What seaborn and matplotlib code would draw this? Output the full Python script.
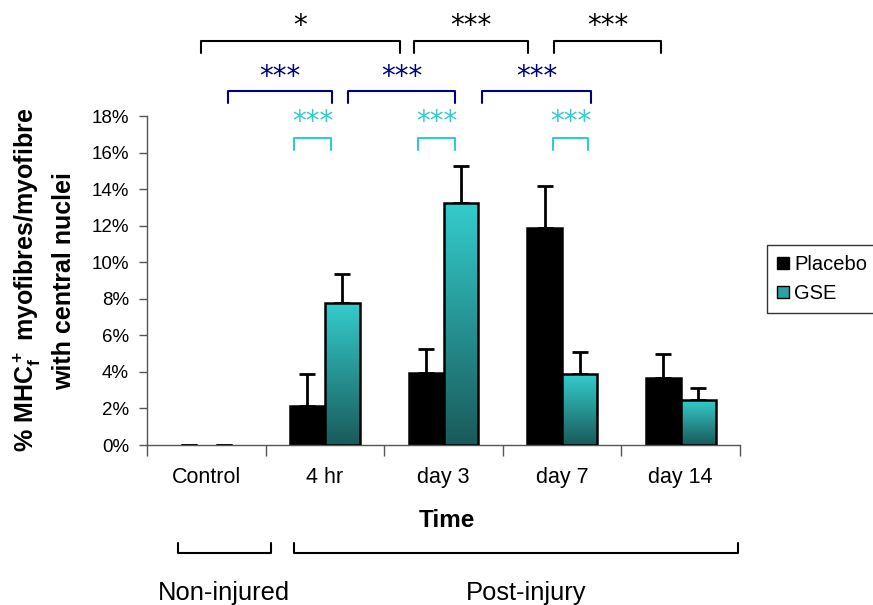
import numpy as np
import pandas as pd
import matplotlib
matplotlib.use("Agg")
import matplotlib.pyplot as plt
import seaborn as sns
from matplotlib.lines import Line2D
from matplotlib.patches import Patch
from matplotlib.colors import LinearSegmentedColormap

# ---------------- data ----------------
categories = ["Control", "4 hr", "day 3", "day 7", "day 14"]
groups = ["Placebo", "GSE"]
placebo = [0.0, 2.15, 3.96, 11.87, 3.67]
placebo_err = [0.0, 1.73, 1.31, 2.30, 1.31]
gse = [0.0, 7.75, 13.24, 3.88, 2.46]
gse_err = [0.0, 1.59, 2.02, 1.21, 0.66]
yticks = [0, 2, 4, 6, 8, 10, 12, 14, 16, 18]
ytick_labels = [f"{t}%" for t in yticks]

sig_black = ["*", "***", "***"]
sig_navy = ["***", "***", "***"]
sig_cyan = ["***", "***", "***"]

# ---------------- style ----------------
sns.set_theme(style="white")
plt.rcParams['font.family'] = ['Liberation Sans', 'DejaVu Sans']
plt.rcParams['mathtext.default'] = 'regular'
plt.rcParams['text.color'] = 'black'
plt.rcParams['xtick.labelcolor'] = 'black'
plt.rcParams['ytick.labelcolor'] = 'black'

W, H = 873, 605
fig = plt.figure(figsize=(W / 100, H / 100), dpi=100)
ax = fig.add_axes([147 / W, 1 - 445 / H, (740 - 147) / W, (445 - 116) / H])

df = pd.DataFrame({
    "Time": categories * 2,
    "value": placebo + gse,
    "group": ["Placebo"] * len(categories) + ["GSE"] * len(categories),
})
errs = {"Placebo": placebo_err, "GSE": gse_err}

TEAL_TOP = "#34CCCC"
TEAL_BOT = "#1A5A5A"
sns.barplot(data=df, x="Time", y="value", hue="group", order=categories,
            hue_order=groups, palette={"Placebo": "black", "GSE": "#28A4A4"},
            width=0.59, gap=0, edgecolor="black", linewidth=1.8,
            saturation=1, errorbar=None, legend=False, ax=ax)

cmap = LinearSegmentedColormap.from_list("gse", [TEAL_BOT, TEAL_TOP])
grad = np.linspace(0, 1, 256).reshape(-1, 1)

for container, g in zip(ax.containers, groups):
    for patch, err in zip(container.patches, errs[g]):
        x0, w, h = patch.get_x(), patch.get_width(), patch.get_height()
        cx = x0 + w / 2
        if h <= 0:
            patch.set_linewidth(0)
        elif g == "GSE":
            ax.imshow(grad, extent=[x0, x0 + w, 0, h], origin="lower",
                      aspect="auto", cmap=cmap, zorder=2, interpolation="bilinear")
            patch.set_facecolor("none")
            patch.set_zorder(3)
        ax.errorbar(cx, h, yerr=[[0], [err]], fmt="none", ecolor="black",
                    elinewidth=2, capsize=5.5, capthick=2, zorder=1)

ax.set_xlim(-0.5, 4.5)
ax.set_ylim(0, 18)
ax.set_aspect("auto")
ax.set_yticks(yticks)
ax.set_yticklabels(ytick_labels, fontsize=13.5)
ax.set_xticks(np.arange(-0.5, 4.6, 1.0))
ax.set_xticklabels([])
ax.set_xticks(np.arange(len(categories)), minor=True)
ax.set_xticklabels(categories, minor=True, fontsize=15.5)
ax.tick_params(axis="x", which="major", bottom=True, length=8, width=1, color="#555555", direction="out")
ax.tick_params(axis="x", which="minor", bottom=True, length=0, pad=16)
ax.tick_params(axis="y", left=True, length=6, width=1, color="#555555", direction="out", pad=7)
ax.set_xlabel("")
ax.set_ylabel("")
for s in ["top", "right"]:
    ax.spines[s].set_visible(False)
for s in ["left", "bottom"]:
    ax.spines[s].set_color("#555555")
    ax.spines[s].set_linewidth(1)

# ---------------- texts ----------------
def P(x, y):
    return (x / W, 1 - y / H)

fig.text(*P(34, 280), r"% MHC$_f^+$ myofibres/myofibre", rotation=90,
         rotation_mode="anchor", ha="center", va="baseline", fontsize=18, fontweight="bold")
fig.text(*P(71, 281), "with central nuclei", rotation=90,
         rotation_mode="anchor", ha="center", va="baseline", fontsize=18, fontweight="bold")
fig.text(*P(447, 527), "Time", ha="center", va="baseline", fontsize=17.5, fontweight="bold")
fig.text(*P(224, 600), "Non-injured", ha="center", va="baseline", fontsize=18.4)
fig.text(*P(526, 600), "Post-injury", ha="center", va="baseline", fontsize=18.4)

def bracket(x1, x2, ytop, yfoot, color, lw=1.5):
    xs = [x1, x1, x2, x2]
    ys = [yfoot, ytop, ytop, yfoot]
    fig.add_artist(Line2D([x / W for x in xs], [1 - y / H for y in ys],
                          color=color, lw=lw, transform=fig.transFigure))

# bottom group brackets (open upward)
bracket(178, 271, 553, 543, "black")
bracket(294, 738, 553, 543, "black")

# significance brackets
black_br = [(201, 400), (414, 528), (554, 661)]
navy_br = [(228, 332), (348, 455), (482, 591)]
cyan_br = [(294, 331), (418, 455), (553, 588)]
STAR = dict(ha="center", va="baseline", fontsize=20, family="DejaVu Sans")
for (x1, x2), lab in zip(black_br, sig_black):
    bracket(x1, x2, 41, 53, "black")
    fig.text(*P((x1 + x2) / 2, 34), lab, color="black", **STAR)
for (x1, x2), lab in zip(navy_br, sig_navy):
    bracket(x1, x2, 91, 103, "#000080")
    fig.text(*P((x1 + x2) / 2, 85), lab, color="#000080", **STAR)
for (x1, x2), lab in zip(cyan_br, sig_cyan):
    bracket(x1, x2, 138, 150, "#33CCCC")
    fig.text(*P((x1 + x2) / 2, 130), lab, color="#33CCCC", **STAR)

# ---------------- legend ----------------
handles = [Patch(facecolor="black", edgecolor="black", label="Placebo"),
           Patch(facecolor="#28A4A4", edgecolor="black", label="GSE")]
leg = fig.legend(handles=handles, loc="upper left", bbox_to_anchor=P(767, 245),
                 frameon=True, fancybox=False, edgecolor="black", fontsize=14.5,
                 handlelength=0.6, handleheight=0.6, handletextpad=0.25,
                 borderpad=0.5, labelspacing=0.5, borderaxespad=0)
leg.get_frame().set_linewidth(1)

fig.savefig("out.png", dpi=100)
